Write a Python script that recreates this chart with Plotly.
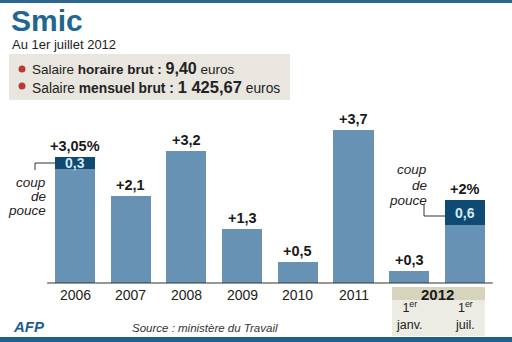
import plotly.graph_objects as go

# ---- data ----
categories = ["2006", "2007", "2008", "2009", "2010", "2011", "2012a", "2012b"]
year_labels = ["2006", "2007", "2008", "2009", "2010", "2011", "", ""]
totals = [3.05, 2.1, 3.2, 1.3, 0.5, 3.7, 0.3, 2.0]
boost = [0.3, 0, 0, 0, 0, 0, 0, 0.6]
total_labels = ["+3,05%", "+2,1", "+3,2", "+1,3", "+0,5", "+3,7", "+0,3", "+2%"]
boost_labels = ["0,3", "", "", "", "", "", "", "0,6"]
sub_labels = ["", "", "", "", "", "", "1<sup>er</sup><br>janv.", "1<sup>er</sup><br>juil."]
base = [t - b for t, b in zip(totals, boost)]

W, H = 512, 342
LIGHT = "#6892b4"
DARK = "#0f4a72"
BLUE = "#1f6690"
FONT = "Liberation Sans"

def px(x):
    return x / W

def py(y):
    return 1 - y / H

xs = list(range(len(categories)))

fig = go.Figure()
fig.add_trace(go.Bar(x=xs, y=base, marker=dict(color=LIGHT, line=dict(width=0)),
                     width=0.72, hoverinfo="skip"))
fig.add_trace(go.Bar(x=xs, y=boost, marker=dict(color=DARK, line=dict(width=0)),
                     width=0.72, hoverinfo="skip"))

# pixel mapping: bar centre at 75px, pitch 55.7px; baseline at 283px, 41.35px/unit
pitch, x0 = 55.7, 75
unit, base_px = 41.35, 283
xr = [-x0 / pitch, (W - x0) / pitch]
yr = [-(H - base_px) / unit, base_px / unit]

ann = []
shapes = []

# top / bottom bands
shapes.append(dict(type="rect", xref="paper", yref="paper", x0=0, x1=1, y0=py(3), y1=1,
                   fillcolor="#2a6890", line=dict(width=0), layer="above"))
shapes.append(dict(type="rect", xref="paper", yref="paper", x0=0, x1=1, y0=0, y1=py(337),
                   fillcolor="#1d6189", line=dict(width=0), layer="above"))
# info box
shapes.append(dict(type="rect", xref="paper", yref="paper", x0=px(9), x1=px(290), y0=py(100), y1=py(54),
                   fillcolor="#e8e6df", line=dict(width=0), layer="below"))
for yy in (69, 86):
    shapes.append(dict(type="circle", xref="paper", yref="paper", x0=px(18.5), x1=px(25.5),
                       y0=py(yy + 3.5), y1=py(yy - 3.5), fillcolor="#b83a36", line=dict(width=0)))
# 2012 box
shapes.append(dict(type="rect", xref="paper", yref="paper", x0=px(392), x1=px(485), y0=py(300), y1=py(287),
                   fillcolor="#d6d4bd", line=dict(width=0), layer="below"))
shapes.append(dict(type="rect", xref="paper", yref="paper", x0=px(392), x1=px(485), y0=py(336), y1=py(300),
                   fillcolor="#ecebe4", line=dict(width=0), layer="below"))
# baseline
shapes.append(dict(type="line", xref="x", yref="y", x0=-0.5, x1=len(categories) - 0.5, y0=0, y1=0,
                   line=dict(color="#333333", width=1.2)))
# coup de pouce brackets
shapes.append(dict(type="path", xref="paper", yref="paper",
                   path=f"M {px(35)} {py(170)} L {px(35)} {py(163)} L {px(55)} {py(163)}",
                   line=dict(color="#333333", width=1)))
shapes.append(dict(type="path", xref="paper", yref="paper",
                   path=f"M {px(424)} {py(205)} L {px(424)} {py(216)} L {px(445)} {py(216)}",
                   line=dict(color="#333333", width=1)))

# titles
ann.append(dict(text="<b>Smic</b>", x=px(9), y=py(21), xanchor="left", yanchor="middle",
                font=dict(size=30, color=BLUE, family=FONT)))
ann.append(dict(text="Au 1er juillet 2012", x=px(10), y=py(44), xanchor="left", yanchor="middle",
                font=dict(size=13, color="#222222", family=FONT)))
ann.append(dict(text="Salaire <b>horaire brut : </b><b><span style='font-size:16px'>9,40</span></b> euros",
                x=px(30), y=py(69), xanchor="left", yanchor="middle",
                font=dict(size=13.5, color="#222222", family=FONT)))
ann.append(dict(text="Salaire <b>mensuel brut : </b><b><span style='font-size:16.5px'>1 425,67</span></b> euros",
                x=px(30), y=py(87.5), xanchor="left", yanchor="middle",
                font=dict(size=13.8, color="#222222", family=FONT)))

# value labels
for i in xs:
    ann.append(dict(text=f"<b>{total_labels[i]}</b>", x=i, y=totals[i], xref="x", yref="y",
                    xanchor="center", yanchor="bottom", yshift=1,
                    font=dict(size=14.5, color="#1a1a1a", family=FONT)))
    if boost_labels[i]:
        ann.append(dict(text=f"<b>{boost_labels[i]}</b>", x=i, y=base[i] + boost[i] / 2,
                        xref="x", yref="y", xanchor="center", yanchor="middle",
                        font=dict(size=14, color="#d5e9f6", family=FONT)))
    if year_labels[i]:
        ann.append(dict(text=year_labels[i], x=i, y=py(295), xref="x", yref="paper",
                        xanchor="center", yanchor="middle",
                        font=dict(size=14, color="#222222", family=FONT)))
    if sub_labels[i]:
        ann.append(dict(text=sub_labels[i], x=i, y=py(315), xref="x", yref="paper",
                        xanchor="center", yanchor="middle",
                        font=dict(size=12.5, color="#222222", family=FONT)))
ann.append(dict(text="<b>2012</b>", x=(xs[6] + xs[7]) / 2, y=py(294), xref="x", yref="paper",
                xanchor="center", yanchor="middle", font=dict(size=15, color="#1a1a1a", family=FONT)))

# coup de pouce texts
for t, yy in (("coup", 182), ("de", 196), ("pouce", 210)):
    ann.append(dict(text=f"<i>{t}</i>", x=px(48), y=py(yy), xanchor="right", yanchor="middle",
                    font=dict(size=13.5, color="#222222", family=FONT)))
for t, yy in (("coup", 169), ("de", 185), ("pouce", 200)):
    ann.append(dict(text=f"<i>{t}</i>", x=px(429), y=py(yy), xanchor="right", yanchor="middle",
                    font=dict(size=13.5, color="#222222", family=FONT)))

# footer
ann.append(dict(text="<b><i>AFP</i></b>", x=px(11), y=py(326), xanchor="left", yanchor="middle",
                font=dict(size=15, color="#1f5d92", family=FONT)))
ann.append(dict(text="<i>Source : ministère du Travail</i>", x=px(205), y=py(328), xanchor="center",
                yanchor="middle", font=dict(size=11.5, color="#333333", family=FONT)))

for a in ann:
    a.setdefault("xref", "paper")
    a.setdefault("yref", "paper")
    a["showarrow"] = False

fig.update_layout(
    width=W, height=H, margin=dict(l=0, r=0, t=0, b=0),
    paper_bgcolor="white", plot_bgcolor="rgba(0,0,0,0)",
    barmode="stack", showlegend=False,
    xaxis=dict(range=xr, visible=False, fixedrange=True),
    yaxis=dict(range=yr, visible=False, fixedrange=True),
    annotations=ann, shapes=shapes,
)
fig.write_html("out.html", config={"displayModeBar": False})
